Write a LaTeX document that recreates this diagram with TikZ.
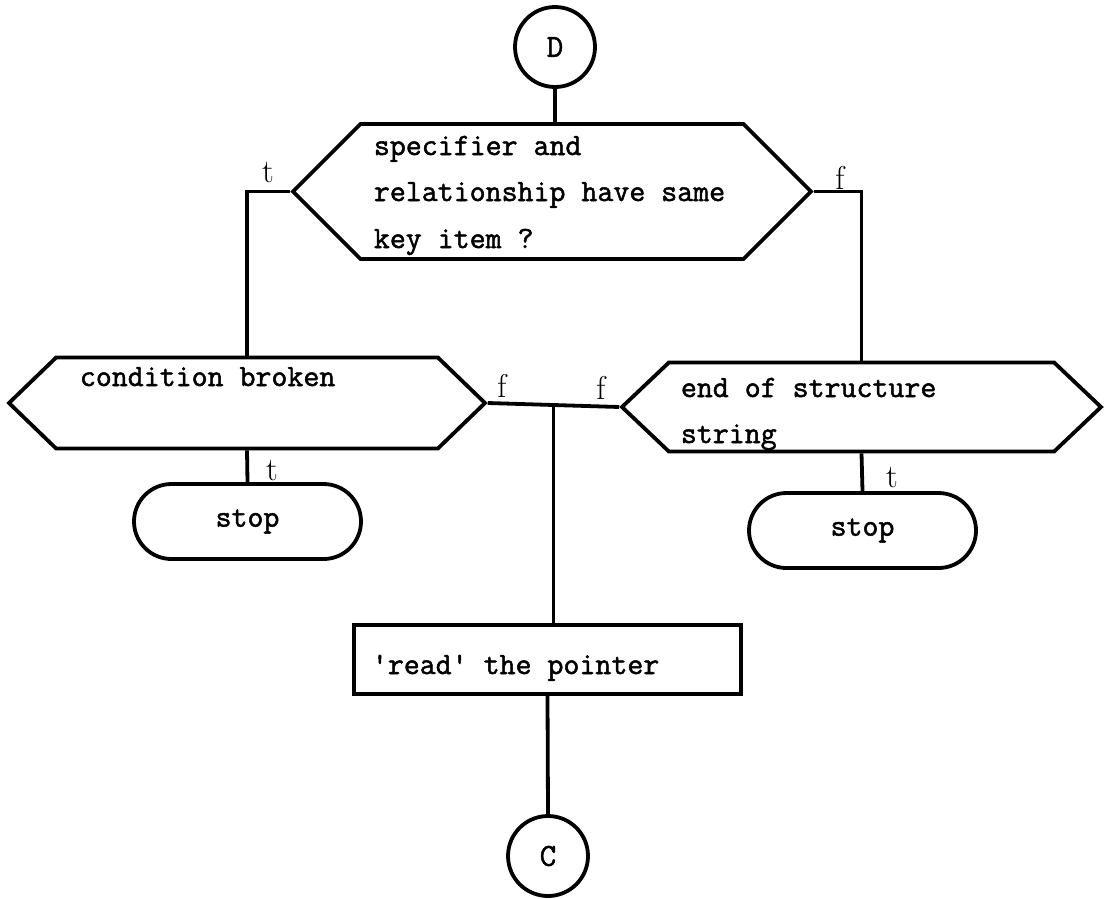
\documentclass[tikz,border=0pt]{standalone}
\usepackage{fontspec}
\newfontfamily\twfont[FakeBold=1.6]{Latin Modern Mono}
\usetikzlibrary{shapes.symbols,shapes.misc,calc}
\begin{document}
\begin{tikzpicture}[x=1pt,y=-1pt,
  line width=3.8pt,
  txt/.style={font=\fontsize{31}{36}\selectfont\twfont, anchor=base west, inner sep=0pt},
  lbl/.style={font=\fontsize{33}{36}\selectfont\rmfamily, inner sep=0pt},
  hexa/.style={draw, signal, signal to=west and east, inner sep=0pt},
  conncirc/.style={draw, circle, minimum size=80pt, inner sep=0pt,
    font=\fontsize{32}{36}\selectfont\twfont},
  stopbox/.style={draw, rounded rectangle, minimum width=227pt, minimum height=75pt,
    inner sep=0pt, font=\fontsize{31}{36}\selectfont\twfont},
  procbox/.style={draw, rectangle, minimum width=387pt, minimum height=69pt, inner sep=0pt}
]
\useasboundingbox (0,0) rectangle (1108,898);
\fill[white] (0,0) rectangle (1108,898);

% connectors (entry / exit)
\node[conncirc] (D) at (555,47) {D};
\node[conncirc] (C) at (548,856) {C};

% decisions
\node[hexa, signal pointer angle=90, minimum width=518pt, minimum height=135pt] (q) at (552,191.5) {};
\node[txt] at (372,155) {specifier and};
\node[txt] at (372,201) {relationship have same};
\node[txt] at (372,248) {key item ?};

\node[hexa, signal pointer angle=88, minimum width=476pt, minimum height=91pt] (L) at (247,403) {};
\node[txt] at (78,386) {condition broken};

\node[hexa, signal pointer angle=87, minimum width=479pt, minimum height=89pt] (R) at (861.5,407) {};
\node[txt] at (679,397) {end of structure};
\node[txt] at (679,443) {string};

% terminals
\node[stopbox] (sL) at (247.5,521.5) {stop};
\node[stopbox] (sR) at (862.5,530.5) {stop};

% process
\node[procbox] (P) at (547.5,659.5) {};
\node[txt] at (370,674) {'read' the pointer};

% flow lines
\draw (D.south) -- (D.south |- q.north);
\draw (q.west) -| (L.north);
\draw (q.east) -| (R.north);
\draw (L.east) -- (R.west);
\coordinate (j) at ($(L.east)!0.5!(R.west)$);
\draw (j) -- (j |- P.north);
\draw (L.south) -- (sL.north);
\draw (R.south) -- (sR.north);
\draw (P.south) -- (C.north);

% branch labels
\node[lbl] at (268,172) {t};
\node[lbl] at (840,178) {f};
\node[lbl] at (502,386) {f};
\node[lbl] at (601,388) {f};
\node[lbl] at (272,470) {t};
\node[lbl] at (892,477) {t};
\end{tikzpicture}
\end{document}
